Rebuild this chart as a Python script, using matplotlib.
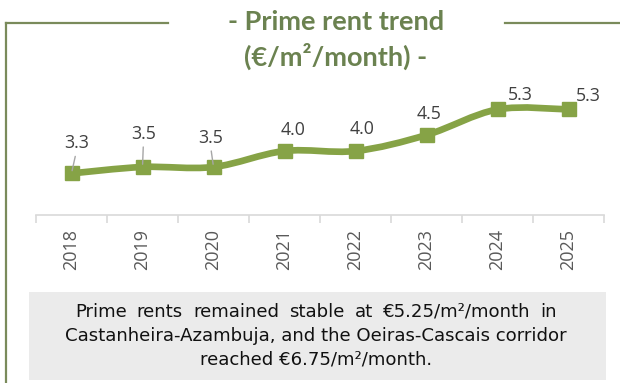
import matplotlib
matplotlib.use("Agg")
import matplotlib.pyplot as plt
from matplotlib.path import Path
from matplotlib.patches import PathPatch, Rectangle
from matplotlib.lines import Line2D
import numpy as np

years = ["2018", "2019", "2020", "2021", "2022", "2023", "2024", "2025"]
rents = [3.3, 3.5, 3.5, 4.0, 4.0, 4.5, 5.3, 5.3]
label_offsets_px = [(5, 30), (1, 33), (-3, 29), (9, 21), (7, 22), (3, 21), (23, 14), (20, 13)]
leader_years = ["2018", "2019", "2020"]

title_lines = ["- Prime rent trend", "(€/m²/month) -"]
note_lines = [
    "Prime rents remained stable at €5.25/m²/month in",
    "Castanheira-Azambuja, and the Oeiras-Cascais corridor",
    "reached €6.75/m²/month.",
]

W, H = 620, 383
DPI = 100
LINE_GREEN = "#86A346"
TITLE_GREEN = "#6B8250"
FRAME_GREEN = "#7A8B5B"

fig = plt.figure(figsize=(W / DPI, H / DPI), dpi=DPI)
fig.patch.set_facecolor("white")


def fx(px):
    return px / W


def fy(py):
    return 1 - py / H


# outer frame
fig.add_artist(Line2D([fx(6), fx(6)], [fy(23), fy(383)], color=FRAME_GREEN, lw=1.6))
fig.add_artist(Line2D([fx(6), fx(168)], [fy(23), fy(23)], color=FRAME_GREEN, lw=1.6))
fig.add_artist(Line2D([fx(505), fx(620)], [fy(23), fy(23)], color=FRAME_GREEN, lw=1.6))

for line, ypx in zip(title_lines, [22, 56]):
    fig.text(fx(336), fy(ypx), line, ha="center", va="center", fontsize=19.5,
             fontweight="bold", color=TITLE_GREEN, family="Lato")

# plot area
ax = fig.add_axes([fx(36), fy(215), fx(604) - fx(36), (215 - 87) / H])
ax.set_xlim(-0.5, len(years) - 0.5)
ax.set_ylim(2, 6)
ax.patch.set_visible(False)
for side in ["top", "right", "left"]:
    ax.spines[side].set_visible(False)
ax.spines["bottom"].set_color("#D9D9D9")
ax.spines["bottom"].set_linewidth(1.2)
ax.set_yticks([])

x = np.arange(len(years))
ax.set_xticks(x)
ax.set_xticklabels(years, rotation=90, fontsize=13, color="#595959", family="Open Sans")
ax.tick_params(axis="x", which="major", length=0, pad=10)
ax.set_xticks(np.arange(-0.5, len(years)), minor=True)
ax.tick_params(axis="x", which="minor", length=6, width=1.2, color="#D9D9D9")

# smoothed line through the points (Catmull-Rom as cubic Bezier segments)
pts = np.column_stack([x, rents]).astype(float)
verts = [tuple(pts[0])]
codes = [Path.MOVETO]
n = len(pts)
for i in range(n - 1):
    p0 = pts[i - 1] if i > 0 else pts[i]
    p1 = pts[i]
    p2 = pts[i + 1]
    p3 = pts[i + 2] if i + 2 < n else pts[i + 1]
    c1 = p1 + (p2 - p0) / 6.0
    c2 = p2 - (p3 - p1) / 6.0
    verts += [tuple(c1), tuple(c2), tuple(p2)]
    codes += [Path.CURVE4] * 3
ax.add_patch(PathPatch(Path(verts, codes), facecolor="none", edgecolor=LINE_GREEN,
                       lw=4.8, capstyle="round", joinstyle="round", zorder=2))
ax.plot(x, rents, linestyle="none", marker="s", markersize=10.5,
        color=LINE_GREEN, zorder=3)

# data labels
for xi, yr, v, (dx, dy) in zip(x, years, rents, label_offsets_px):
    ax.annotate(f"{v:.1f}", xy=(xi, v), xytext=(dx, dy), textcoords="offset pixels",
                ha="center", va="center", fontsize=12.8, color="#404040",
                family="Open Sans", zorder=4)
    if yr in leader_years:
        ax.annotate("", xy=(xi, v), xytext=(dx * 0.75, dy - 13),
                    textcoords="offset pixels",
                    arrowprops=dict(arrowstyle="-", color="#A6A6A6", lw=1.0,
                                    shrinkA=0, shrinkB=2), zorder=4)

# note box
fig.add_artist(Rectangle((fx(29), fy(380)), fx(606) - fx(29), (380 - 292) / H,
                         transform=fig.transFigure, facecolor="#EBEBEB",
                         edgecolor="none", zorder=0))

note_style = dict(fontsize=13.1, color="#111111", family="DejaVu Sans", va="center")
renderer = fig.canvas.get_renderer()

# first line is justified across the box, the others are centred
words = note_lines[0].split(" ")
left_px, right_px = 75, 557
word_texts = [fig.text(0, fy(312), w, ha="left", **note_style) for w in words]
widths = [t.get_window_extent(renderer).width for t in word_texts]
gap = (right_px - left_px - sum(widths)) / (len(words) - 1)
cursor = left_px
for t, wdt in zip(word_texts, widths):
    t.set_x(fx(cursor))
    cursor += wdt + gap

for i, line in enumerate(note_lines[1:], start=1):
    fig.text(fx(316), fy(312 + 24 * i), line, ha="center", **note_style)

fig.savefig("out.png", dpi=DPI, facecolor="white")
